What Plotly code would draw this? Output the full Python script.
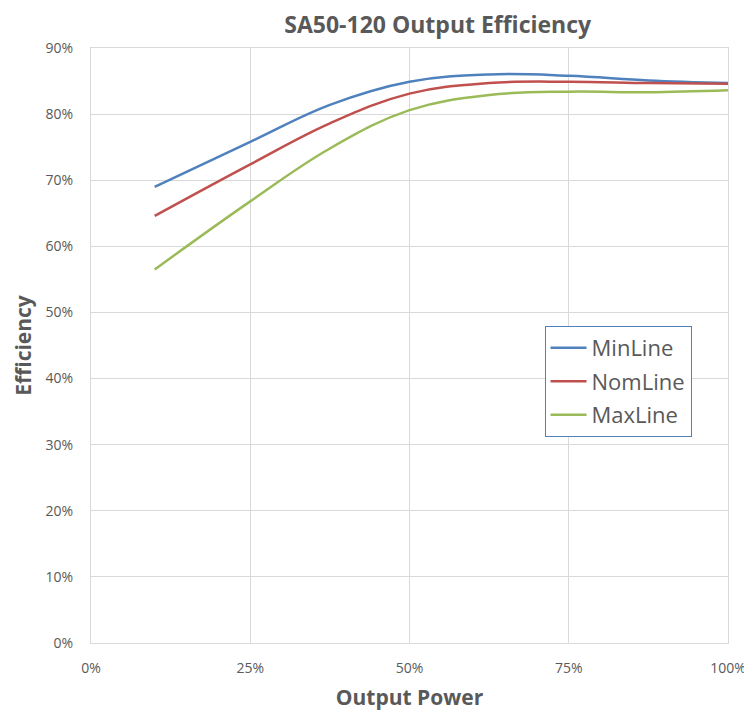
import plotly.graph_objects as go

# Data
output_power = [10, 25, 37.5, 50, 62.5, 75, 87.5, 100]
min_line = [69.0, 75.8, 81.4, 84.9, 86.0, 85.8, 85.1, 84.7]
nom_line = [64.6, 72.4, 78.6, 83.1, 84.7, 84.9, 84.7, 84.6]
max_line = [56.5, 66.8, 74.8, 80.6, 82.9, 83.4, 83.3, 83.6]

series = [
    ("MinLine", min_line, "#4F81BD"),
    ("NomLine", nom_line, "#C0504D"),
    ("MaxLine", max_line, "#9BBB59"),
]

x_ticks = [0, 25, 50, 75, 100]
x_tick_labels = ["0%", "25%", "50%", "75%", "100%"]
y_ticks = [0, 10, 20, 30, 40, 50, 60, 70, 80, 90]
y_tick_labels = ["0%", "10%", "20%", "30%", "40%", "50%", "60%", "70%", "80%", "90%"]

FONT = "Open Sans"
GRAY = "#595959"
GRID = "#D9D9D9"

# page body has an 8px margin, so the figure is drawn slightly smaller
W, H = 744, 707

fig = go.Figure()
for name, vals, color in series:
    fig.add_trace(go.Scatter(
        x=output_power, y=vals, name=name, mode="lines",
        line=dict(color=color, width=2.5, shape="spline", smoothing=1.1),
        legendgroup=name,
    ))

fig.update_layout(
    width=W, height=H,
    margin=dict(l=83, r=24, t=40, b=72, autoexpand=False),
    paper_bgcolor="white", plot_bgcolor="white",
    font=dict(family=FONT, color=GRAY, size=13),
    title=dict(text="<b>SA50-120 Output Efficiency</b>", x=0.5443, xanchor="center",
               xref="paper", y=1 - 17 / H, yanchor="middle", yref="container",
               font=dict(size=23, color=GRAY, family=FONT), automargin=False),
    legend=dict(x=0.712, y=0.533, xanchor="left", yanchor="top",
                bordercolor="#4F81BD", borderwidth=1, bgcolor="white",
                font=dict(size=22, color=GRAY, family=FONT),
                traceorder="grouped", tracegroupgap=2, itemwidth=36),
    showlegend=True,
)
fig.update_xaxes(
    range=[0, 100], tickvals=x_ticks, ticktext=x_tick_labels,
    showgrid=True, gridcolor=GRID, gridwidth=1,
    showline=True, linecolor=GRID, mirror=True, zeroline=False,
    ticks="", automargin=False, ticklabelstandoff=12,
    tickfont=dict(size=14, color=GRAY),
    title=dict(text="<b>Output Power</b>", font=dict(size=21, color=GRAY), standoff=14),
)
fig.update_yaxes(
    range=[0, 90], tickvals=y_ticks, ticktext=y_tick_labels,
    showgrid=True, gridcolor=GRID, gridwidth=1,
    showline=True, linecolor=GRID, mirror=True, zeroline=False,
    ticks="", automargin=False, ticklabelstandoff=14,
    tickfont=dict(size=14, color=GRAY),
    title=dict(text="<b>Efficiency</b>", font=dict(size=21, color=GRAY), standoff=8),
)

fig.write_html("out.html")
